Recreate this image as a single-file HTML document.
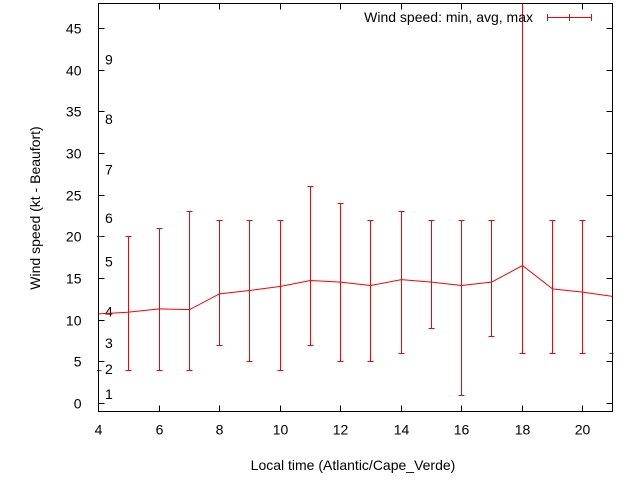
<!DOCTYPE html>
<html><head><meta charset="utf-8"><style>
body{margin:0;background:#fff;font-family:"Liberation Sans",sans-serif}
svg text{font-family:"Liberation Sans",sans-serif;font-size:14px;fill:#000}
</style></head><body>
<svg width="640" height="480" viewBox="0 0 640 480">
<g id="g"></g>
</svg>
<script>
const hours=[4,5,6,7,8,9,10,11,12,13,14,15,16,17,18,19,20,21];
const avgs=[10.7,10.9,11.3,11.2,13.1,13.5,14.0,14.7,14.5,14.1,14.8,14.5,14.1,14.5,16.5,13.7,13.3,12.8];
const mins=[4,4,4,4,7,5,4,7,5,5,6,9,1,8,6,6,6,6];
const maxs=[20,20,21,23,22,22,22,26,24,22,23,22,22,22,60,22,22,20];
const yTicks=[0,5,10,15,20,25,30,35,40,45];
const xTicks=[4,6,8,10,12,14,16,18,20];
const beaufort=[1,2,3,4,5,6,7,8,9];
const beaufortY=[1.1,4.1,7.2,11,17,22.2,28,34.1,41.2];
const L=98.5,R=612.5,T=3.5,B=411.5;
const X=v=>Math.round(98+(v-4)*30.25)+0.5;
const Y=v=>403-v*8.333;
const Yc=v=>Math.round(Y(v))+0.5;
const g=document.getElementById('g');
const NS='http://www.w3.org/2000/svg';
function mk(t,a){const e=document.createElementNS(NS,t);for(const k in a)e.setAttribute(k,a[k]);g.appendChild(e);return e;}
const defs=mk('defs',{});const cp=document.createElementNS(NS,'clipPath');cp.setAttribute('id','c');const cr=document.createElementNS(NS,'rect');cr.setAttribute('x',97);cr.setAttribute('y',T);cr.setAttribute('width',R-97+1);cr.setAttribute('height',B-T);cp.appendChild(cr);defs.appendChild(cp);
yTicks.forEach(v=>{
 const y=Yc(v);
 let l=mk('line',{x1:L,x2:L+6,y1:y,y2:y,stroke:'#000'});
 
 
 mk('line',{x1:R-6,x2:R,y1:y,y2:y,stroke:'#000'});
 let t=mk('text',{x:L-17,y:y+5,'text-anchor':'end'});t.textContent=v;
 
 
});
xTicks.forEach(v=>{
 const x=X(v);
 mk('line',{x1:x,x2:x,y1:B,y2:B-6,stroke:'#000'});
 mk('line',{x1:x,x2:x,y1:T,y2:T+6,stroke:'#000'});
 let t=mk('text',{x:x,y:B+23,'text-anchor':'middle'});t.textContent=v;
 
 
});
beaufort.forEach((b,i)=>{
 let t=mk('text',{x:105,y:Y(beaufortY[i])+5});t.textContent=b;
 
 
});
const pg=mk('g',{'clip-path':'url(#c)',fill:'none'});


function add(t,a){a.stroke='#ff0000';a['stroke-width']=1;const e=document.createElementNS(NS,t);for(const k in a)e.setAttribute(k,a[k]);pg.appendChild(e);return e;}
hours.forEach((h,i)=>{
 const x=X(h);
 let l=add('line',{x1:x,x2:x,y1:Yc(mins[i]),y2:Yc(maxs[i])});
 
 
 add('line',{x1:x-3,x2:x+3,y1:Yc(mins[i]),y2:Yc(mins[i])});
 if(Y(maxs[i])>T) add('line',{x1:x-3,x2:x+3,y1:Yc(maxs[i]),y2:Yc(maxs[i])});
});
let p=add('polyline',{points:hours.map((h,i)=>X(h)+','+Y(avgs[i])).join(' ')});


let fr=mk('rect',{x:L,y:T,width:R-L,height:B-T,fill:'none',stroke:'#000'});


let lt=mk('text',{x:533,y:22,'text-anchor':'end'});lt.textContent='Wind speed: min, avg, max';


const lg=mk('g',{stroke:'#ff0000'});


[[547,17.5,592,17.5],[547.5,14,547.5,21],[591.5,14,591.5,21],[569.5,14,569.5,21]].forEach(a=>{const e=document.createElementNS(NS,'line');e.setAttribute('x1',a[0]);e.setAttribute('y1',a[1]);e.setAttribute('x2',a[2]);e.setAttribute('y2',a[3]);lg.appendChild(e);});
let xt=mk('text',{x:353,y:470,'text-anchor':'middle'});xt.textContent='Local time (Atlantic/Cape_Verde)';


let yt=mk('text',{x:0,y:0,'text-anchor':'middle',transform:'translate(40,208) rotate(-90)'});yt.textContent='Wind speed (kt - Beaufort)';


</script>
</body></html>
